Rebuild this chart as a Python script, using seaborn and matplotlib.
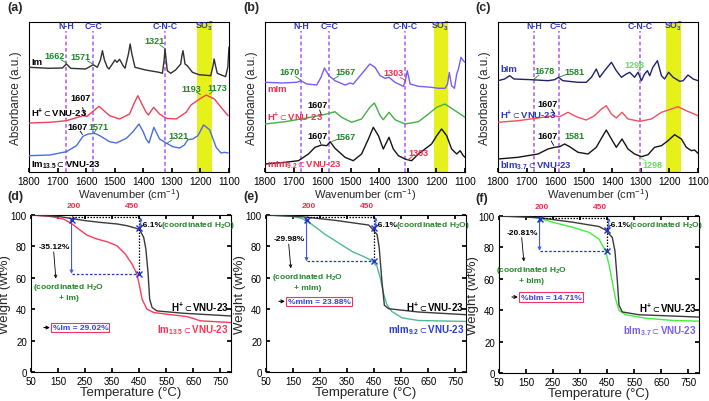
import matplotlib.pyplot as plt
from matplotlib.patches import FancyArrowPatch
import seaborn as sns

# ---------------- FTIR data (wavenumber cm-1, absorbance a.u.) ----------------
# (a) Im / H+ / Im13.5
a_wn_im = [1800, 1730, 1683, 1669, 1654, 1602, 1575, 1561, 1550, 1543, 1536, 1526, 1520, 1499, 1492,
           1483, 1470, 1464, 1452, 1446, 1440, 1429, 1392, 1345, 1333, 1327, 1324, 1320, 1316, 1304,
           1287, 1269, 1265, 1261, 1257, 1254, 1246, 1228, 1205, 1164, 1156, 1152, 1147, 1141, 1112,
           1104, 1100]
a_ab_im = [104.7, 103.7, 104, 108, 103.7, 103, 107.3, 104.7, 112, 121.3, 112, 104.7, 103, 112, 109.7,
           112.7, 106, 103.7, 118, 128, 118, 104.7, 102, 99.7, 98.7, 112, 123, 112, 101.3, 98.7,
           102, 108, 116, 121.3, 114, 108, 106.3, 99.7, 97.3, 96.3, 106, 113, 106, 98.7, 95.3,
           105, 125]
a_wn_h = [1800, 1727, 1669, 1611, 1597, 1555, 1518, 1483, 1448, 1430, 1419, 1405, 1390, 1382, 1364,
          1343, 1320, 1285, 1250, 1233, 1203, 1180, 1151, 1128, 1103]
a_ab_h = [49, 49.7, 51.3, 56.3, 55.7, 65.7, 56.3, 53, 58, 70, 76.3, 68, 59.7, 57, 64.7,
          58, 53.7, 53, 59.7, 67, 73, 77, 73, 64.7, 56.3]
a_wn_s = [1800, 1727, 1669, 1634, 1611, 1593, 1570, 1552, 1518, 1494, 1459, 1436, 1415, 1400, 1390,
          1380, 1363, 1343, 1320, 1297, 1273, 1256, 1244, 1227, 1209, 1189, 1168, 1145, 1128, 1115, 1103]
a_ab_s = [16.3, 17, 20.3, 26.3, 35.7, 38, 38.7, 36.3, 30.3, 29, 33.7, 40.3, 48, 40, 33,
          29, 44.7, 33, 29, 25.3, 24, 27, 32.3, 33, 36.3, 47, 42.3, 24.7, 19, 19.7, 19]
a_marks = [1669, 1575, 1324]
a_band = [1161, 1211]

# (b) mIm / H+ / mIm9.2
b_wn_im = [1800, 1742, 1689, 1674, 1654, 1619, 1604, 1592, 1576, 1555, 1520, 1502, 1491, 1462, 1433,
           1415, 1397, 1380, 1366, 1345, 1316, 1310, 1302, 1292, 1263, 1217, 1193, 1170, 1161, 1155,
           1147, 1137, 1129, 1123, 1114, 1106, 1100]
b_ab_im = [89.7, 89, 89.7, 91.3, 88, 87, 94.7, 104, 96.3, 91.3, 87, 89, 88, 98, 108,
           104.7, 96.3, 93.7, 94.7, 89.7, 85.7, 89.7, 101.3, 88, 85.7, 84.7, 83.7, 83.7, 88, 99.7,
           86.3, 83.7, 98, 103, 114.7, 111.3, 109.7]
b_wn_h = [1800, 1730, 1660, 1613, 1584, 1555, 1532, 1497, 1462, 1433, 1417, 1397, 1386, 1366, 1345,
          1310, 1263, 1228, 1199, 1170, 1147, 1117, 1100]
b_ab_h = [48, 50.3, 53.7, 56.3, 58, 60.3, 54.7, 49.7, 53, 64.7, 69, 56.3, 52.3, 59.7, 52.3,
          48, 50.3, 58, 64.7, 68, 63.7, 58, 54.7]
b_wn_s = [1800, 1730, 1683, 1648, 1625, 1602, 1584, 1572, 1555, 1520, 1491, 1462, 1438, 1421, 1403,
          1386, 1366, 1351, 1333, 1310, 1287, 1263, 1240, 1217, 1199, 1182, 1164, 1147, 1129, 1117,
          1106, 1100]
b_ab_s = [8, 9.7, 11.3, 18, 24.7, 27, 26.3, 30.3, 23.7, 14.7, 11.3, 18, 33, 44.7, 36.3,
          23, 34.7, 23, 16.3, 13, 11.3, 18, 23, 28, 36.3, 43, 36.3, 23, 18, 21.3,
          16.3, 14.7]
b_marks = [1674, 1575, 1310]
b_band = [1161, 1209]

# (c) bIm / H+ / bIm3.7
c_wn_im = [1800, 1777, 1759, 1744, 1683, 1625, 1602, 1588, 1573, 1520, 1491, 1473, 1456, 1444, 1427,
           1403, 1386, 1368, 1351, 1339, 1322, 1310, 1298, 1287, 1277, 1269, 1258, 1242, 1228, 1217,
           1203, 1187, 1164, 1152, 1135, 1117, 1100]
c_ab_im = [91.3, 93, 96.3, 93, 92.3, 91.3, 92.3, 94.7, 91.3, 89.7, 89.7, 94.7, 103, 94.7, 101.3,
           109.7, 101.3, 94.7, 98, 99.7, 94.7, 99.7, 91.3, 98, 101.3, 96.3, 104.7, 111.3, 96.3, 93,
           99.7, 94.7, 90.7, 91.3, 97, 93, 91.3]
c_wn_h = [1800, 1730, 1660, 1608, 1584, 1555, 1526, 1491, 1462, 1438, 1421, 1403, 1386, 1366, 1345,
          1304, 1263, 1228, 1193, 1170, 1141, 1100]
c_ab_h = [49.7, 51.3, 54, 56.3, 55.3, 59.7, 55.3, 52, 56.3, 63, 66.3, 58, 54, 59.7, 53,
          50.7, 53, 59.7, 63, 65.3, 61.3, 56.3]
c_wn_s = [1800, 1730, 1660, 1625, 1602, 1584, 1567, 1549, 1520, 1485, 1456, 1436, 1421, 1403, 1386,
          1366, 1345, 1322, 1298, 1275, 1252, 1228, 1205, 1182, 1158, 1141, 1123, 1112, 1100]
c_ab_s = [13, 14.7, 18, 23, 24.7, 25.3, 28, 25.3, 19.7, 18, 24.7, 34.7, 42, 33, 24.7,
          33, 23, 18, 15.3, 17.3, 24.7, 26.3, 31.3, 37.3, 33, 24.7, 21.3, 22, 18.7]
c_marks = [1674, 1588, 1304]
c_band = [1161, 1211]

# ---------------- TGA data (temperature °C, weight wt%) ----------------
d_T_ref = [50, 152, 195, 251, 306, 368, 405, 440, 454, 467, 475, 483, 489, 498, 516, 615, 738, 790]
d_W_ref = [100, 99.1, 97.9, 96.4, 95.3, 94.3, 93.2, 91.5, 90, 85.7, 78.3, 63.4, 46.4, 41.1, 38.9, 37.4, 36.2, 35.7]
d_T_s = [50, 121, 171, 202, 226, 257, 294, 331, 368, 399, 424, 442, 452, 461, 479, 504, 553, 627, 652, 676, 790]
d_W_s = [100, 99.1, 97.4, 94.3, 91.1, 87.2, 84.7, 83, 80.4, 75.1, 68.7, 62.3, 54.5, 46.4, 40, 37.9, 36.8, 35.3, 34, 32.6, 31.5]
d_levels = [98.5, 91.5, 62.5]     # start, H+ at 450, sample at 450
d_cross_W = [97, 91.5, 62.5]

e_T_ref = [50, 183, 306, 430, 440, 461, 469, 479, 488, 504, 615, 790]
e_W_ref = [100, 98.9, 96.6, 93.6, 91.8, 87.6, 79, 57.5, 42.5, 40.3, 38.2, 36.5]
e_T_s = [50, 134, 183, 220, 269, 319, 368, 418, 442, 461, 473, 485, 497, 516, 553, 615, 790]
e_W_s = [100, 99.4, 97.9, 94, 87.6, 82.2, 76.8, 73, 70.8, 67.2, 59.7, 50, 43, 38.5, 34.5, 32.8, 32.2]
e_levels = [98.7, 91.8, 70.4]
e_cross_W = [96.8, 91.8, 70.4]

f_T_ref = [50, 198, 321, 420, 444, 469, 479, 488, 494, 506, 568, 691, 790]
f_W_ref = [100, 98.9, 96.1, 93.3, 91.1, 86.4, 77.8, 58.3, 43.2, 38.9, 37.1, 36.3, 35.6]
f_T_s = [50, 149, 198, 260, 321, 383, 420, 444, 457, 469, 481, 494, 519, 593, 691, 790]
f_W_s = [100, 99.8, 98.5, 95.5, 92.9, 89.6, 85.3, 77.8, 69.1, 58.3, 47.5, 39.9, 37.1, 34.9, 33.5, 33]
f_levels = [98.9, 91.4, 77.8]
f_cross_W = [98.2, 91.4, 77.8]

T_MARKS = [200, 450]

sns.set_theme(style="ticks")
plt.rcParams.update({
    "figure.facecolor": "white",
    "axes.facecolor": "white",
    "axes.edgecolor": "black",
    "axes.linewidth": 0.8,
    "xtick.direction": "in",
    "ytick.direction": "in",
    "xtick.major.size": 3,
    "ytick.major.size": 3,
    "xtick.color": "black",
    "ytick.color": "black",
    "mathtext.fontset": "custom",
    "mathtext.rm": "Liberation Sans",
    "mathtext.bf": "Liberation Sans:bold",
    "mathtext.it": "Liberation Sans:italic",
    "mathtext.default": "regular",
})
plt.rcParams["font.family"] = ["Liberation Sans", "DejaVu Sans"]

YELLOW = "#e6f01a"
PURPLE = "#b065f5"
HEAD = "#2f36c4"
GREEN = "#22862a"
LGREEN = "#66e060"
RED = "#f0304f"
BLUE = "#4058dd"
SUB = r"${\subset}$"

W_PX, H_PX = 709, 402


def rect(l, t, r, b):
    return [l / W_PX, 1 - b / H_PX, (r - l) / W_PX, (b - t) / H_PX]


def arrow(ax, start, end, style="->", color="black", lw=0.6, ms=5):
    ax.add_patch(FancyArrowPatch(start, end, arrowstyle=style, color=color, lw=lw,
                                 mutation_scale=ms, shrinkA=0, shrinkB=0, zorder=5))


def label(ax, txt, x, y, xy=None, color=GREEN, fs=6.5):
    ax.text(x, y, txt, color=color, fontsize=fs, fontweight="bold", ha="center", va="center", zorder=6)
    if xy is not None:
        # short leader line from the label edge towards the peak
        sx = x + (xy[0] - x) * 0.55
        sy = y + (xy[1] - y) * 0.55
        ax.plot([sx, xy[0]], [sy, xy[1]], color=color, lw=0.6, zorder=6)


def ftir(ax, curves, marks, band, names):
    ax.axvspan(band[0], band[1], color=YELLOW, lw=0, zorder=0)
    for m in marks:
        ax.axvline(m, ymin=0, ymax=141 / 150, color=PURPLE, ls=(0, (2.2, 1.6)), lw=1.2, zorder=1)
    for m, t in zip(marks, ["N-H", "C=C", "C-N-C"]):
        ax.text(m, 146, t, color=HEAD, fontsize=6.3, fontweight="bold", ha="center", va="center")
    ax.text(sum(band) / 2, 146, r"SO$_3^-$", color=HEAD, fontsize=6.3, fontweight="bold",
            ha="center", va="center")
    for (wn, ab, col) in curves:
        sns.lineplot(x=wn, y=ab, ax=ax, color=col, lw=1.0, sort=False, estimator=None, zorder=3)
    for (txt, y, col) in names:
        ax.text(1793, y, txt, color=col, fontsize=6.8, fontweight="bold", ha="left", va="center", zorder=4)
    ax.set_xlim(1800, 1100)
    ax.set_ylim(0, 150)
    ax.set_xticks(range(1800, 1099, -100))
    ax.set_yticks([])
    ax.tick_params(axis="x", labelsize=7.3, pad=3, top=False)
    ax.set_xlabel("Wavenumber (cm$^{-1}$)", fontsize=8, labelpad=0)
    ax.set_ylabel("Absorbance (a.u.)", fontsize=8.5, labelpad=5)


def tga(ax, T_ref, W_ref, T_s, W_s, col_s, levels, cross_W, pct, what, name_s, name_col,
        pct_y, pct_txt, drop_txt_y, what_x, what_y):
    fs = 6.0
    sns.lineplot(x=T_ref, y=W_ref, ax=ax, color="#3a3a3a", lw=1.0, sort=False, estimator=None, zorder=3)
    sns.lineplot(x=T_s, y=W_s, ax=ax, color=col_s, lw=1.0, sort=False, estimator=None, zorder=2)
    t0, t1 = T_MARKS
    top, mid, low = levels
    ax.plot([t0, t1], [top, top], ls=(0, (1.2, 1.2)), color="black", lw=0.9, zorder=4)
    ax.plot([t1, t1], [top, low], ls=(0, (1.2, 1.2)), color="black", lw=0.9, zorder=4)
    ax.plot([t0, t1], [low, low], ls=(0, (2, 1.5)), color="#2233bb", lw=0.9, zorder=4)
    arrow(ax, (t0, top), (t0, low), style="<->", color=BLUE, lw=0.8, ms=5)
    arrow(ax, (t1 + 6, top), (t1 + 6, mid), style="<->", color=BLUE, lw=0.8, ms=4)
    ax.plot([t0, t1, t1], cross_W, ls="none", marker="x", ms=4, mew=1, color="#2233cc", zorder=5)
    ax.text(t0 + 8, 105.8, str(t0), color=RED, fontsize=fs, fontweight="bold", ha="center", va="center")
    ax.text(t1 - 26, 105.8, str(t1), color=RED, fontsize=fs, fontweight="bold", ha="center", va="center")
    arrow(ax, (t0 + 4, top + 0.5), (t0 + 16, 103.5), lw=0.5, ms=4)
    arrow(ax, (t1 - 14, 104), (t1 - 6, top + 0.5), lw=0.5, ms=4)
    ax.text(t1 + 5, top - 4.5, "-6.1%", color="black", fontsize=fs, fontweight="bold",
            ha="left", va="center")
    ax.text(t1 + 82, top - 4.5, "(coordinated H$_2$O)", color=GREEN, fontsize=fs, fontweight="bold",
            ha="left", va="center")
    ax.text(136, drop_txt_y, pct, color="black", fontsize=fs, fontweight="bold", ha="center", va="center")
    arrow(ax, (134, drop_txt_y - 3.5), (142, what_y + 8), lw=0.6, ms=5)
    ax.text(what_x, what_y, "(coordinated H$_2$O\n+ " + what + ")", color=GREEN, fontsize=fs,
            fontweight="bold", ha="center", va="center", linespacing=1.4)
    arrow(ax, (98, pct_y), (120, pct_y), lw=0.8, ms=5)
    ax.text(130, pct_y, pct_txt, color="#3344dd", fontsize=fs, fontweight="bold",
            ha="left", va="center",
            bbox=dict(boxstyle="square,pad=0.15", fc="white", ec="#ee3366", lw=0.8))
    ax.text(782, 41.5, "H$^{+}$" + SUB + "VNU-23", color="black", fontsize=7, fontweight="bold",
            ha="right", va="center")
    ax.text(782, 27.5, name_s, color=name_col, fontsize=7, fontweight="bold", ha="right", va="center")
    ax.set_xlim(50, 790)
    ax.set_ylim(0, 100)
    ax.set_xticks(range(50, 790, 100))
    ax.set_yticks(range(0, 101, 20))
    ax.tick_params(labelsize=7, top=True, right=True, pad=3)
    ax.set_xlabel("Temperature (°C)", fontsize=9.5, labelpad=0)
    ax.set_ylabel("Weight (wt%)", fontsize=9.5, labelpad=0)


fig = plt.figure(figsize=(W_PX / 100, H_PX / 100), dpi=100)

# ---- (a) ----
ax = fig.add_axes(rect(29, 23, 229, 173))
ftir(ax, [(a_wn_im, a_ab_im, "#303030"), (a_wn_h, a_ab_h, "#f0405a"), (a_wn_s, a_ab_s, "#4a6ee0")],
     a_marks, a_band,
     [("Im", 110, "black"), ("H$^{+}$" + SUB + "VNU-23", 60, "black"),
      ("Im$_{13.5}$" + SUB + "VNU-23", 7.3, "black")])
label(ax, "1662", 1712, 116.5, (1669, 109))
label(ax, "1571", 1619, 115, (1577, 108))
label(ax, "1321", 1362, 131.5, (1327, 124))
label(ax, "1193", 1231, 83, (1200, 77.5))
label(ax, "1173", 1141, 84, (1168, 78))
label(ax, "1607", 1620, 74, (1606, 57), color="black")
label(ax, "1607", 1630, 45, (1613, 37.5), color="black")
label(ax, "1571", 1557, 45, (1572, 39.5))
label(ax, "1321", 1277, 36.5, (1318, 28.5))

# ---- (b) ----
ax = fig.add_axes(rect(265, 23, 465, 173))
ftir(ax, [(b_wn_im, b_ab_im, "#7a5cf5"), (b_wn_h, b_ab_h, "#45b045"), (b_wn_s, b_ab_s, "#151515")],
     b_marks, b_band,
     [("mIm", 83.7, RED), ("H$^{+}$" + SUB + "VNU-23", 56, RED),
      ("mIm$_{9.2}$" + SUB + "VNU-23", 7.3, RED)])
label(ax, "1670", 1715, 100, (1675, 92))
label(ax, "1567", 1520, 100, (1560, 93))
label(ax, "1303", 1351, 99, (1306, 91), color=RED)
label(ax, "1607", 1616, 67.5, (1603, 57.5), color="black")
label(ax, "1607", 1616, 36.5, (1604, 28), color="black")
label(ax, "1567", 1520, 35.5, (1566, 30.5))
label(ax, "1303", 1262, 19.7, (1302, 12), color=RED)

# ---- (c) ----
ax = fig.add_axes(rect(498, 23, 698, 173))
ftir(ax, [(c_wn_im, c_ab_im, "#22226a"), (c_wn_h, c_ab_h, "#f05060"), (c_wn_s, c_ab_s, "#151515")],
     c_marks, c_band,
     [("bIm", 103.7, HEAD), ("H$^{+}$" + SUB + "VNU-23", 58, HEAD),
      ("bIm$_{3.7}$" + SUB + "VNU-23", 7.3, HEAD)])
label(ax, "1678", 1636, 101.5, (1674, 93))
label(ax, "1581", 1532, 100.5, (1585, 95))
label(ax, "1298", 1323, 107, (1302, 99), color=LGREEN)
label(ax, "1607", 1625, 68.5, (1601, 58), color="black")
label(ax, "1607", 1625, 36.5, (1605, 26.5), color="black")
label(ax, "1581", 1532, 36.5)
label(ax, "1298", 1258, 7, (1300, 14), color=LGREEN)

# ---- (d) ----
ax = fig.add_axes(rect(31, 216, 231, 373))
tga(ax, d_T_ref, d_W_ref, d_T_s, d_W_s, "#ff3a5c", d_levels, d_cross_W, "-35.12%", "Im",
    "Im$_{13.5}$" + SUB + "VNU-23", "#ff3355", 28.3, "%Im = 29.02%", 80, 190, 51.5)

# ---- (e) ----
ax = fig.add_axes(rect(266, 216, 466, 373))
tga(ax, e_T_ref, e_W_ref, e_T_s, e_W_s, "#50b898", e_levels, e_cross_W, "-29.98%", "mIm",
    "mIm$_{9.2}$" + SUB + "VNU-23", "#2a3ad8", 45, "%mIm = 23.88%", 85, 205, 58)

# ---- (f) ----
ax = fig.add_axes(rect(499, 217, 699, 374))
tga(ax, f_T_ref, f_W_ref, f_T_s, f_W_s, "#40ee40", f_levels, f_cross_W, "-20.81%", "bIm",
    "bIm$_{3.7}$" + SUB + "VNU-23", "#7a5cf5", 48.4, "%bIm = 14.71%", 89.7, 170, 63)

for txt, x, y in [("(a)", 7, 8), ("(b)", 243, 8), ("(c)", 475, 8),
                  ("(d)", 7, 197), ("(e)", 243, 197), ("(f)", 475, 199)]:
    fig.text(x / W_PX, 1 - y / H_PX, txt, fontsize=9, fontweight="bold", ha="left", va="center")

fig.savefig("out.png", dpi=100)
